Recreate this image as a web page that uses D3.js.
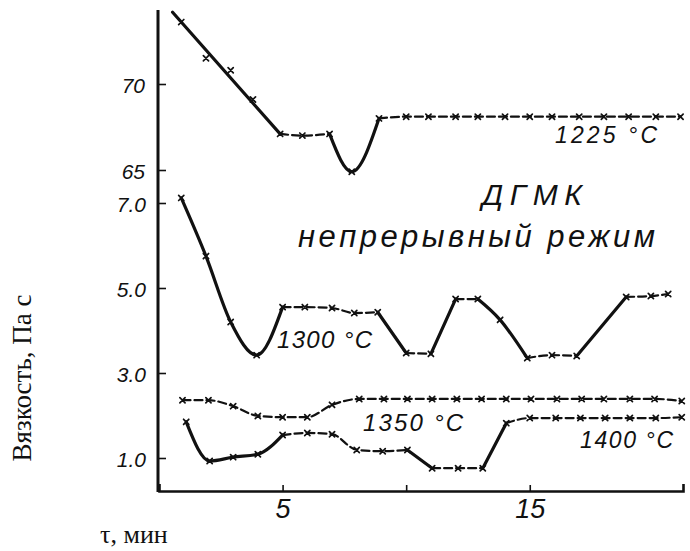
<!DOCTYPE html>
<html>
<head>
<meta charset="utf-8">
<script src="https://cdn.jsdelivr.net/npm/d3@7"></script>
<style>
  html, body { margin: 0; padding: 0; background: #fff; }
  svg { display: block; }
</style>
</head>
<body>
<svg id="chart" width="690" height="551"></svg>
<script>
// Viscosity of ДГМК slag vs time, continuous mode, at four temperatures.
// Time, min
const tau1225 = [0.9, 1.9, 2.9, 3.8, 4.9, 5.8, 6.9, 7.8, 8.9, 10.0, 10.9, 12.0, 12.9, 14.0, 15.0, 15.9, 17.0, 18.0, 19.0, 20.1, 21.1];
const tau1300 = [0.9, 1.9, 2.9, 3.95, 5.0, 5.9, 7.0, 7.9, 8.85, 10.0, 11.0, 12.0, 12.9, 13.8, 14.9, 15.9, 16.9, 18.9, 19.9, 20.6];
const tau1350 = [0.95, 2.0, 3.0, 4.0, 5.0, 6.0, 7.0, 8.1, 9.1, 10.05, 11.05, 12.05, 13.05, 14.05, 15.05, 16.1, 17.1, 18.0, 19.05, 20.05, 21.15];
const tau1400 = [1.1, 2.05, 3.0, 4.0, 5.0, 6.0, 7.0, 8.0, 9.05, 10.05, 11.05, 12.1, 13.1, 14.05, 15.0, 16.05, 17.05, 18.05, 19.05, 20.1, 21.15];

// Viscosity, Pa·s (1225 °C is read on the upper scale)
const visc1225 = [73.6, 71.5, 70.8, 69.1, 67.1, 67.0, 67.1, 64.9, 68.0, 68.1, 68.1, 68.1, 68.1, 68.1, 68.1, 68.1, 68.1, 68.1, 68.1, 68.1, 68.1];
const visc1300 = [7.12, 5.75, 4.2, 3.42, 4.55, 4.55, 4.53, 4.41, 4.43, 3.47, 3.45, 4.74, 4.74, 4.25, 3.35, 3.42, 3.4, 4.79, 4.81, 4.86];
const visc1350 = [2.36, 2.36, 2.22, 1.99, 1.96, 1.96, 2.25, 2.39, 2.39, 2.39, 2.39, 2.39, 2.39, 2.39, 2.39, 2.39, 2.39, 2.39, 2.39, 2.39, 2.34];
const visc1400 = [1.85, 0.93, 1.02, 1.09, 1.54, 1.59, 1.56, 1.19, 1.16, 1.19, 0.76, 0.76, 0.76, 1.82, 1.94, 1.94, 1.94, 1.94, 1.94, 1.94, 1.96];

// Segment line kinds between neighbouring points: s = solid, d = dashed,
// f = one straight solid stroke from the run's first point to its last
const seg1225 = "ffffddssdddddddddddd";
const seg1300 = "ssssddddsdsdssddsdd";
const seg1350 = "dddddddddddddddddddd";
const seg1400 = "ssssdddddsddsddddddd";

// Tick values
const xTicks = [5, 10, 15];
const xTickLabels = ["5", "", "15"];
const yUpperTicks = [65, 70];
const yLowerTicks = [1, 3, 5, 7];

// Curve labels
const labels = [
  { text: "1225 °C", t: 555, b: 143, w: 102, fs: 23 },
  { text: "ДГМК", t: 482, b: 205, w: 100, fs: 30 },
  { text: "непрерывный режим", t: 298, b: 247, w: 357, fs: 31 },
  { text: "1300 °C", t: 277, b: 348, w: 95, fs: 24 },
  { text: "1350 °C", t: 363, b: 431, w: 100, fs: 24 },
  { text: "1400 °C", t: 580, b: 448, w: 93, fs: 23 }
];

const ink = "#111";
const svg = d3.select("#chart");

const x = d3.scaleLinear().domain([0, 21.2]).range([159, 683]);
const yLow = d3.scaleLinear().domain([1, 7]).range([458, 203]);
const yUp = d3.scaleLinear().domain([65, 70]).range([170, 84]);

const axisX0 = 158, axisY0 = 491, axisTop = 10;

// axes
const gx = svg.append("g").attr("transform", `translate(0,${axisY0})`)
  .call(d3.axisBottom(x).tickValues(xTicks).tickSize(-6).tickSizeOuter(-7).tickPadding(8)
    .tickFormat((d, i) => xTickLabels[i]));
gx.select(".domain").attr("stroke", ink).attr("stroke-width", 2.6);
gx.selectAll(".tick line").attr("stroke", ink).attr("stroke-width", 1.6);
gx.selectAll(".tick text")
  .attr("font-family", "Liberation Sans, Arial, sans-serif")
  .attr("font-style", "italic").attr("font-size", 27).attr("fill", ink)
  .attr("dy", "0.71em");

function styleY(g) {
  g.select(".domain").remove();
  g.selectAll(".tick line").attr("stroke", ink).attr("stroke-width", 1.6);
  g.selectAll(".tick text")
    .attr("font-family", "Liberation Sans, Arial, sans-serif")
    .attr("font-style", "italic").attr("font-size", 21).attr("fill", ink)
    .attr("dy", "0.42em");
}
svg.append("g").attr("transform", `translate(${axisX0},0)`)
  .call(d3.axisLeft(yUp).tickValues(yUpperTicks).tickSize(-8).tickPadding(13).tickFormat(d3.format("d")))
  .call(styleY);
svg.append("g").attr("transform", `translate(${axisX0},0)`)
  .call(d3.axisLeft(yLow).tickValues(yLowerTicks).tickSize(-8).tickPadding(12).tickFormat(d3.format(".1f")))
  .call(styleY);

svg.append("line")
  .attr("x1", axisX0).attr("x2", axisX0).attr("y1", axisTop).attr("y2", axisY0 + 1)
  .attr("stroke", ink).attr("stroke-width", 3);

// axis titles
svg.append("text")
  .attr("transform", `translate(31,378) rotate(-90)`)
  .attr("text-anchor", "middle")
  .attr("font-family", "Liberation Serif, Times New Roman, serif")
  .attr("font-size", 27).attr("fill", ink)
  .text("Вязкость, Па с");
svg.append("text")
  .attr("x", 100).attr("y", 543)
  .attr("font-family", "Liberation Serif, Times New Roman, serif")
  .attr("font-size", 26).attr("fill", ink)
  .text("τ, мин");

// series
const series = [
  { tau: tau1225, v: visc1225, seg: seg1225, y: yUp },
  { tau: tau1300, v: visc1300, seg: seg1300, y: yLow },
  { tau: tau1350, v: visc1350, seg: seg1350, y: yLow },
  { tau: tau1400, v: visc1400, seg: seg1400, y: yLow }
];

const plot = svg.append("g").attr("fill", "none").attr("stroke", ink).attr("stroke-linecap", "round");

// straight stroke through a run's end points, started a little before the first one
function straight(ts, vs) {
  const n = ts.length - 1;
  const k = (vs[n] - vs[0]) / (ts[n] - ts[0]);
  const t0 = ts[0] - 0.35;
  return [[t0, vs[0] + k * (t0 - ts[0])], [ts[n], vs[n]]];
}

series.forEach(s => {
  const pts = s.tau.map((t, i) => [x(t), s.y(s.v[i])]);
  // split into runs of the same line kind
  const runs = [];
  let start = 0;
  for (let i = 1; i <= s.seg.length; i++) {
    if (i === s.seg.length || s.seg[i] !== s.seg[start]) {
      runs.push({ kind: s.seg[start], from: start, to: i });
      start = i;
    }
  }
  runs.forEach(r => {
    let d;
    if (r.kind === "f") {
      const fl = straight(s.tau.slice(r.from, r.to + 1), s.v.slice(r.from, r.to + 1));
      d = d3.line()(fl.map(p => [x(p[0]), s.y(p[1])]));
    } else {
      d = d3.line().curve(d3.curveMonotoneX)(pts.slice(r.from, r.to + 1));
    }
    plot.append("path")
      .attr("d", d)
      .attr("stroke-width", r.kind === "d" ? 2.2 : 3.2)
      .attr("stroke-dasharray", r.kind === "d" ? "8,4" : null);
  });
  // x markers
  plot.selectAll(null).data(pts).join("path")
    .attr("d", d => `M${d[0] - 2.6},${d[1] - 2.6}L${d[0] + 2.6},${d[1] + 2.6}M${d[0] - 2.6},${d[1] + 2.6}L${d[0] + 2.6},${d[1] - 2.6}`)
    .attr("stroke-width", 1.7);
});

// curve labels
svg.append("g").selectAll("text").data(labels).join("text")
  .attr("x", d => d.t).attr("y", d => d.b)
  .attr("textLength", d => d.w).attr("lengthAdjust", "spacing")
  .attr("font-family", "Liberation Sans, Arial, sans-serif")
  .attr("font-style", "italic")
  .attr("font-size", d => d.fs)
  .attr("fill", ink)
  .text(d => d.text);
</script>
</body>
</html>
